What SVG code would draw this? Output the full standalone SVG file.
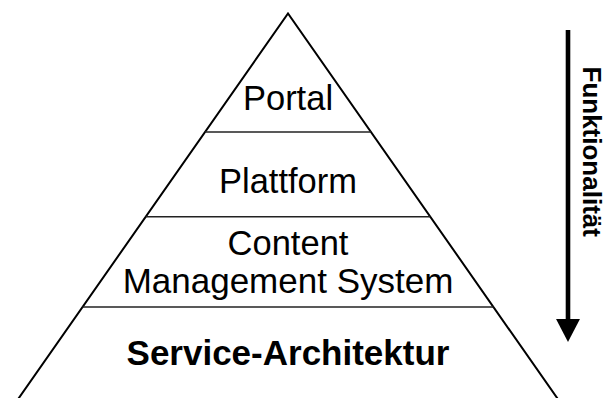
<svg xmlns="http://www.w3.org/2000/svg" width="607" height="398" viewBox="0 0 607 398">
  <style>
    .edge { stroke: #000; stroke-width: 2; fill: none; }
    .sep { stroke: #222; stroke-width: 1.5; fill: none; }
    .lbl { font-family: "Liberation Sans", Arial, sans-serif; font-size: 34.5px; fill: #000; text-anchor: middle; }
    .bold { font-weight: bold; }
  </style>
  <defs>
    <marker id="head" markerWidth="5" markerHeight="5.2" refX="0" refY="2.6" orient="auto" markerUnits="strokeWidth" viewBox="0 0 5 5.2">
      <path d="M0,0 L5,2.6 L0,5.2 Z" fill="#000"/>
    </marker>
  </defs>
  <rect width="607" height="398" fill="#fff"/>
  <g id="pyramid">
    <path class="edge" d="M15,403.5 L288,13.5 L561,403.5"/>
  </g>
  <g id="portal">
    <text class="lbl" x="288" y="110">Portal</text>
    <line class="sep" x1="205" y1="132" x2="371" y2="132"/>
  </g>
  <g id="plattform">
    <text class="lbl" x="288" y="193">Plattform</text>
    <line class="sep" x1="145.8" y1="216.7" x2="430.2" y2="216.7"/>
  </g>
  <g id="cms">
    <text class="lbl" x="288" y="255">Content</text>
    <text class="lbl" x="288" y="293" style="font-size:35px">Management System</text>
    <line class="sep" x1="82.5" y1="307" x2="493.5" y2="307"/>
  </g>
  <g id="service">
    <text class="lbl bold" x="288" y="365" style="font-size:35px">Service-Architektur</text>
  </g>
  <g id="connectors">
    <line x1="568" y1="30" x2="568" y2="319" stroke="#000" stroke-width="4.6" marker-end="url(#head)"/>
  </g>
  <g id="funktionalitaet">
    <text class="lbl bold" style="font-size:26px;text-anchor:start" transform="translate(583,66.5) rotate(90)">Funktionalität</text>
  </g>
</svg>
